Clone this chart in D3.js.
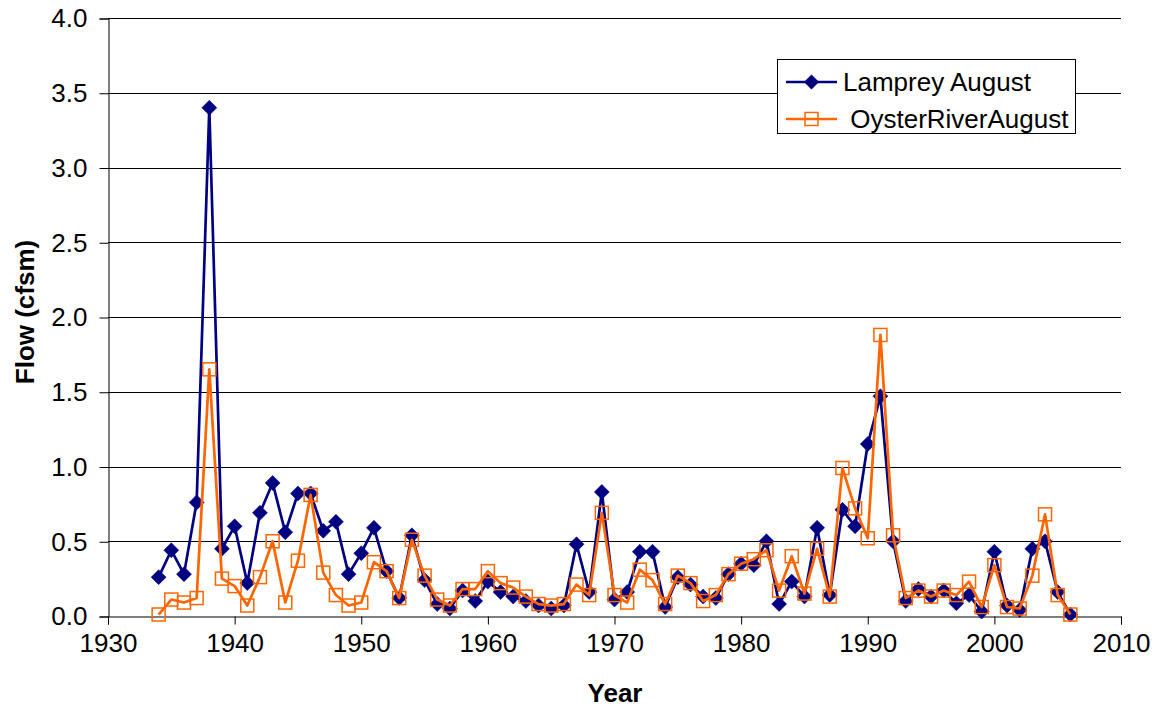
<!DOCTYPE html>
<html>
<head>
<meta charset="utf-8">
<script src="https://cdn.jsdelivr.net/npm/d3@7"></script>
<style>
  body { margin: 0; background: #fff; }
  svg { display: block; font-family: Arial, "Liberation Sans", sans-serif; }
</style>
</head>
<body>
<div id="chart"></div>
<script>
var years = [1934,1935,1936,1937,1938,1939,1940,1941,1942,1943,1944,1945,1946,1947,1948,1949,
  1950,1951,1952,1953,1954,1955,1956,1957,1958,1959,1960,1961,1962,1963,1964,1965,1966,1967,1968,1969,
  1970,1971,1972,1973,1974,1975,1976,1977,1978,1979,1980,1981,1982,1983,1984,1985,1986,1987,1988,1989,
  1990,1991,1992,1993,1994,1995,1996,1997,1998,1999,2000,2001,2002,2003,2004,2005,2006];

var lamprey = [0.26,0.44,0.28,0.76,3.40,0.45,0.60,0.22,0.69,0.89,0.56,0.82,0.82,0.57,0.63,0.28,
  0.42,0.59,0.30,0.12,0.54,0.24,0.08,0.05,0.17,0.10,0.23,0.16,0.13,0.10,0.07,0.05,0.07,0.48,0.16,0.83,
  0.11,0.16,0.43,0.43,0.06,0.26,0.21,0.13,0.12,0.28,0.35,0.34,0.50,0.08,0.23,0.13,0.59,0.14,0.71,0.60,
  1.15,1.47,0.50,0.10,0.18,0.13,0.17,0.085,0.14,0.03,0.43,0.07,0.04,0.45,0.50,0.16,0.01];

var oyster = [0.01,0.11,0.09,0.12,1.65,0.25,0.20,0.07,0.26,0.50,0.09,0.37,0.81,0.29,0.14,0.07,
  0.09,0.36,0.30,0.12,0.51,0.27,0.11,0.07,0.18,0.18,0.30,0.22,0.19,0.13,0.08,0.07,0.08,0.21,0.14,0.69,
  0.14,0.09,0.31,0.24,0.08,0.27,0.22,0.10,0.14,0.28,0.35,0.38,0.44,0.17,0.40,0.15,0.45,0.13,0.99,0.72,
  0.52,1.88,0.54,0.12,0.17,0.13,0.17,0.14,0.23,0.06,0.34,0.06,0.05,0.27,0.68,0.14,0.01];

var xTicks = [1930,1940,1950,1960,1970,1980,1990,2000,2010];
var yTicks = [0,0.5,1,1.5,2,2.5,3,3.5,4];
var seriesNames = ["Lamprey August", " OysterRiverAugust"];

(function() {
  var width = 1154, height = 708;
  var plotLeft = 108, plotRight = 1121, plotTop = 18, plotBottom = 616;

  var x = d3.scaleLinear().domain([1930, 2010]).range([plotLeft, plotRight]);
  var y = d3.scaleLinear().domain([0, 4]).range([plotBottom, plotTop]);

  var svg = d3.select("#chart").append("svg")
    .attr("width", width).attr("height", height)
    .attr("xmlns", "http://www.w3.org/2000/svg");

  // horizontal grid
  svg.append("g")
    .selectAll("line")
    .data(yTicks.slice(1)).enter()
    .append("line")
    .attr("x1", plotLeft).attr("x2", plotRight)
    .attr("y1", function(d){ return Math.round(y(d)) + 0.5; })
    .attr("y2", function(d){ return Math.round(y(d)) + 0.5; })
    .style("stroke", "#000").style("stroke-width", 1);

  // axes
  var yAxis = svg.append("g")
    .attr("transform", "translate(" + (plotLeft + 0.5) + ",0.5)")
    .call(d3.axisLeft(y).tickValues(yTicks).tickFormat(d3.format(".1f")).tickSize(9).tickPadding(12));
  var xAxis = svg.append("g")
    .attr("transform", "translate(0," + (plotBottom + 0.5) + ")")
    .call(d3.axisBottom(x).tickValues(xTicks).tickFormat(d3.format("d")).tickSize(8).tickPadding(9));

  [yAxis, xAxis].forEach(function(a){
    a.select(".domain").style("stroke", "#000");
    a.selectAll(".tick line").style("stroke", "#000");
    a.selectAll("text").style("font-size", "26px").style("fill", "#000")
      .style("font-family", "Arial, 'Liberation Sans', sans-serif");
  });

  // axis titles
  svg.append("text")
    .attr("x", 615).attr("y", 702)
    .attr("text-anchor", "middle")
    .style("font-size", "26px").style("font-weight", "bold")
    .text("Year");
  svg.append("text")
    .attr("transform", "translate(34,312) rotate(-90)")
    .attr("text-anchor", "middle")
    .style("font-size", "26px").style("font-weight", "bold")
    .text("Flow (cfsm)");

  var line = d3.line()
    .x(function(d){ return x(d[0]); })
    .y(function(d){ return y(d[1]); });

  var lampreyPts = years.map(function(yr, i){ return [yr, lamprey[i]]; });
  var oysterPts = years.map(function(yr, i){ return [yr, oyster[i]]; });

  var navy = "#000080", orange = "#FF6600";
  function diamond(cx, cy, r){
    return "M" + cx + "," + (cy - r) + "L" + (cx + r) + "," + cy + "L" + cx + "," + (cy + r) + "L" + (cx - r) + "," + cy + "Z";
  }

  // Lamprey series
  svg.append("path")
    .datum(lampreyPts)
    .attr("d", line)
    .style("fill", "none").style("stroke", navy).style("stroke-width", 2.7)
    .style("stroke-linejoin", "round");
  svg.append("g")
    .selectAll("path")
    .data(lampreyPts).enter()
    .append("path")
    .attr("d", function(d){ return diamond(x(d[0]), y(d[1]), 7.5); })
    .style("fill", navy).style("stroke", navy).style("stroke-width", 0.5);

  // Oyster series
  svg.append("path")
    .datum(oysterPts)
    .attr("d", line)
    .style("fill", "none").style("stroke", orange).style("stroke-width", 2.7)
    .style("stroke-linejoin", "round");
  svg.append("g")
    .selectAll("rect")
    .data(oysterPts).enter()
    .append("rect")
    .attr("x", function(d){ return x(d[0]) - 6.5; })
    .attr("y", function(d){ return y(d[1]) - 6.5; })
    .attr("width", 13).attr("height", 13)
    .style("fill", "none").style("stroke", orange).style("stroke-width", 1.5);

  // legend
  var lg = svg.append("g");
  lg.append("rect")
    .attr("x", 777.5).attr("y", 59.5).attr("width", 298).attr("height", 74)
    .style("fill", "#fff").style("stroke", "#000").style("stroke-width", 1);
  lg.append("line").attr("x1", 786).attr("x2", 837).attr("y1", 82).attr("y2", 82)
    .style("stroke", navy).style("stroke-width", 2.7);
  lg.append("path").attr("d", diamond(811.5, 82, 7.5)).style("fill", navy);
  lg.append("text").attr("x", 843).attr("y", 91)
    .style("font-size", "26px").text(seriesNames[0]);
  lg.append("line").attr("x1", 786).attr("x2", 837).attr("y1", 119).attr("y2", 119)
    .style("stroke", orange).style("stroke-width", 2.7);
  lg.append("rect").attr("x", 805).attr("y", 112.5).attr("width", 13).attr("height", 13)
    .style("fill", "none").style("stroke", orange).style("stroke-width", 1.5);
  lg.append("text").attr("x", 843).attr("y", 128)
    .style("white-space", "pre")
    .style("font-size", "26px").text(seriesNames[1]);
}());
</script>
</body>
</html>
